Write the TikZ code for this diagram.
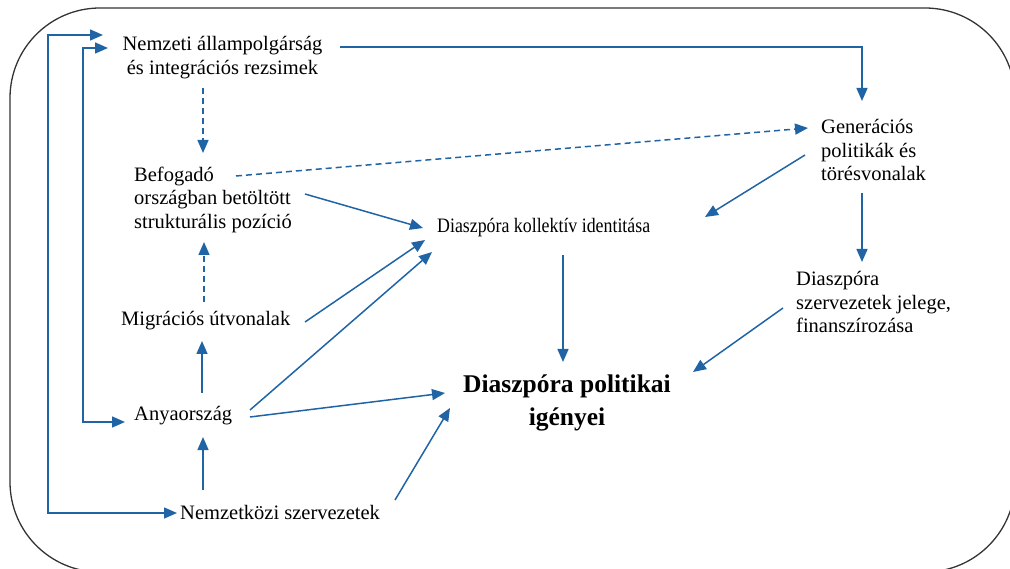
\documentclass[tikz,border=0pt]{standalone}
\usepackage{fontspec}
\setmainfont{Liberation Serif}
\usetikzlibrary{arrows.meta,calc}
\definecolor{blu}{RGB}{32,100,165}
\tikzset{
  lbl/.style={inner sep=0pt, font=\fontsize{20.5}{23.5}\selectfont},
  conn/.style={draw=blu, line width=1.5pt, -{Triangle[length=13pt,width=11pt]}},
  biconn/.style={draw=blu, line width=1.5pt, {Triangle[length=13pt,width=11pt]}-{Triangle[length=13pt,width=11pt]}},
  dconn/.style={conn, dash pattern=on 6pt off 4pt},
}
\begin{document}
\begin{tikzpicture}[x=1pt,y=-1pt]
\useasboundingbox (0,0) rectangle (1010,569);
\begin{scope}
\clip (0,0) rectangle (1010,569);
\draw[line width=1.3pt, black!80, rounded corners=90pt] (10,8) rectangle (1015,572);
\end{scope}

\node[lbl, align=center] (nem) at (222.5,57.5) {Nemzeti állampolgárság\\és integrációs rezsimek};
\node[lbl, align=left, anchor=west] (bef) at (134,199.5) {Befogadó\\országban betöltött\\strukturális pozíció};
\node[lbl, anchor=west] (mig) at (121,321) {Migrációs útvonalak};
\node[lbl, anchor=west] (anya) at (134,416) {Anyaország};
\node[lbl, anchor=west] (nk) at (180,512) {Nemzetközi szervezetek};
\node[lbl, anchor=west] (id) at (437,228) {\scalebox{0.87}[1]{Diaszpóra kollektív identitása}};
\node[inner sep=0pt, align=center, font=\bfseries\fontsize{25.5}{33}\selectfont] (pol) at (567,403) {Diaszpóra politikai\\igényei};
\node[lbl, align=left, anchor=west] (gen) at (821,150) {Generációs\\politikák és\\törésvonalak};
\node[lbl, align=left, anchor=west] (dsz) at (796,302) {Diaszpóra\\szervezetek jelege,\\finanszírozása};

% feedback loops on the left
\draw[biconn] ($(nem.center)+(-119.5,-22.5)$) -- ++(-55,0) |- ($(nk.west)+(-3,1)$);
\draw[biconn] ($(nem.center)+(-114.5,-9.5)$) -- ++(-25,0) |- ($(anya.west)+(-9,6)$);

% top
\draw[conn] ($(nem.center)+(117.5,-10.5)$) -| ($(gen.west)+(41,-49)$);
\draw[dconn] ($(nem.center)+(-19.5,30.5)$) -- ($(bef.west)+(69,-46.5)$);
\draw[dconn] ($(bef.west)+(102,-23.5)$) -- ($(gen.west)+(-13,-22)$);

% into identity
\draw[conn] ($(bef.west)+(171,-5.5)$) -- ($(id.west)+(-14,0)$);
\draw[conn] ($(mig.west)+(184,1)$) -- ($(id.west)+(-12,12)$);
\draw[conn] ($(anya.west)+(116,-6)$) -- ($(id.west)+(-5,24)$);
\draw[conn] ($(gen.west)+(-16,5)$) -- ($(id.west)+(268,-11)$);

% into political claims
\draw[conn] ($(anya.west)+(116,1)$) -- ($(pol.center)+(-122,-10)$);
\draw[conn] ($(nk.west)+(215,-12)$) -- ($(pol.center)+(-117,5)$);
\draw[conn] ($(id.west)+(126,27)$) -- ($(pol.center)+(-4,-41)$);
\draw[conn] ($(dsz.west)+(-13,6)$) -- ($(pol.center)+(126,-31)$);

% vertical chain
\draw[conn] ($(anya.west)+(68,-23)$) -- ($(mig.west)+(81,20)$);
\draw[dconn] ($(mig.west)+(83,-19)$) -- ($(bef.west)+(70,42.5)$);
\draw[conn] ($(nk.west)+(23,-22)$) -- ($(anya.west)+(69,21)$);
\draw[conn] ($(gen.west)+(41,43)$) -- ($(dsz.west)+(66,-40)$);
\end{tikzpicture}
\end{document}
